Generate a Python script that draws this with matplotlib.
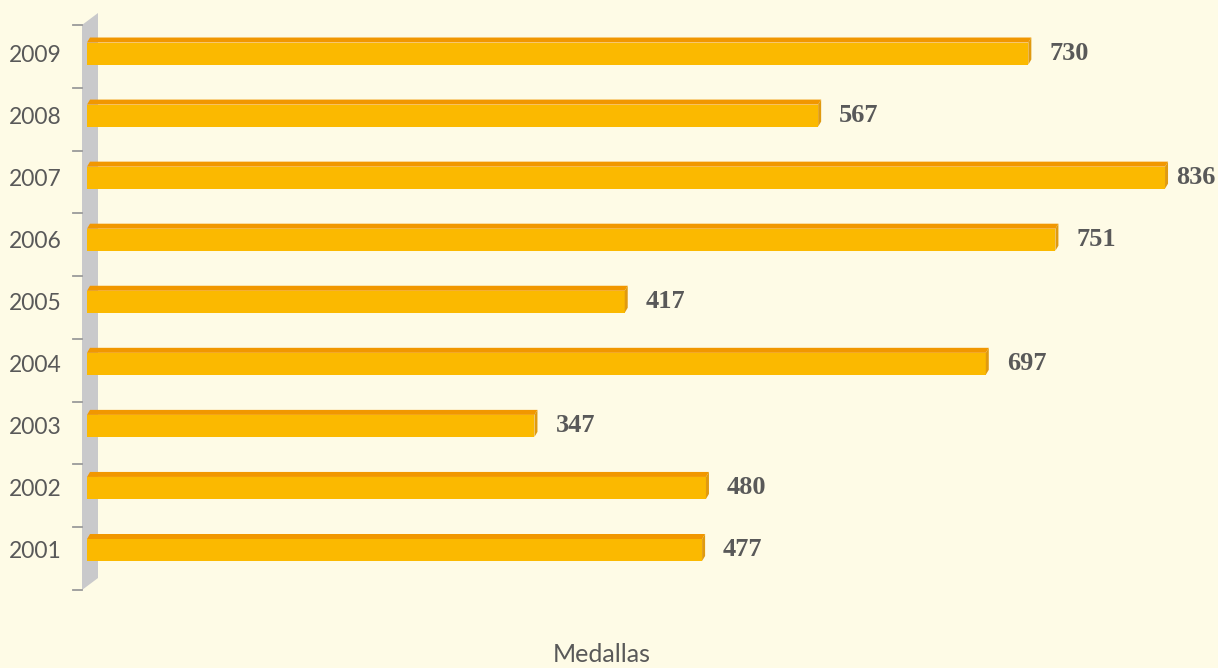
import numpy as np
import matplotlib
matplotlib.use("Agg")
import matplotlib.pyplot as plt
from matplotlib.patches import Polygon

# datos
years = ["2001", "2002", "2003", "2004", "2005", "2006", "2007", "2008", "2009"]
medals = [477, 480, 347, 697, 417, 751, 836, 567, 730]
xlabel = "Medallas"

bg = "#FEFBE6"
front = "#FBB900"
top = "#F19700"
side = "#E09A10"
wall = "#C9C9CB"
txt = "#595959"

W, H = 1218, 668
fig = plt.figure(figsize=(W / 100, H / 100), dpi=100, facecolor=bg)
ax = fig.add_axes([0, 0, 1, 1])
ax.set_facecolor(bg)

# escala: px = 87 + 1.2895*v ; py = 550.5 - 62.06*i
sx, x0 = 1.2895, 87
sy, y0 = 62.06, 550.5
ax.set_xlim(-x0 / sx, (W - x0) / sx)
ax.set_ylim((y0 - H) / sy, y0 / sy)
ax.axis("off")

px = lambda p: (p - x0) / sx
py = lambda p: (y0 - p) / sy

# pared lateral gris
ax.add_patch(Polygon([(px(82), py(25)), (px(98), py(13)), (px(98), py(578)), (px(82), py(590))],
                     closed=True, facecolor=wall, edgecolor="none", zorder=1))
for t in np.linspace(py(590), py(25), 10):
    ax.plot([px(73), px(82)], [t, t], color="#9A9A9A", lw=1.3, zorder=1)

pos = np.arange(len(years))
hgt = 22 / sy
dx, dy = 3 / sx, 5 / sy
bars = ax.barh(pos - 10.5 / sy, medals, height=hgt, align="edge", color=front, zorder=3)
for b, v in zip(bars, medals):
    y1 = b.get_y() + b.get_height()
    ax.add_patch(Polygon([(0, y1), (v, y1), (v + dx, y1 + dy), (dx, y1 + dy)],
                         closed=True, facecolor=top, edgecolor="none", zorder=3))
    ax.add_patch(Polygon([(v, b.get_y()), (v + dx, b.get_y() + dy), (v + dx, y1 + dy), (v, y1)],
                         closed=True, facecolor=side, edgecolor="none", zorder=3))
    xt = min(v + 21 / sx, px(1176))
    ax.text(xt, b.get_y() + b.get_height() / 2 + 0.5 / sy, str(v), ha="left", va="center",
            fontsize=19, fontweight="bold", family="Liberation Serif", color=txt)

for i, y in zip(pos, years):
    ax.text(px(62), i - 1.5 / sy, y, ha="right", va="center", fontsize=16.5, family="Lato", color=txt)

fig.text(0.494, 0.02, xlabel, ha="center", va="center", fontsize=18, family="Lato", color=txt)

fig.savefig("out.png", dpi=100, facecolor=bg)
